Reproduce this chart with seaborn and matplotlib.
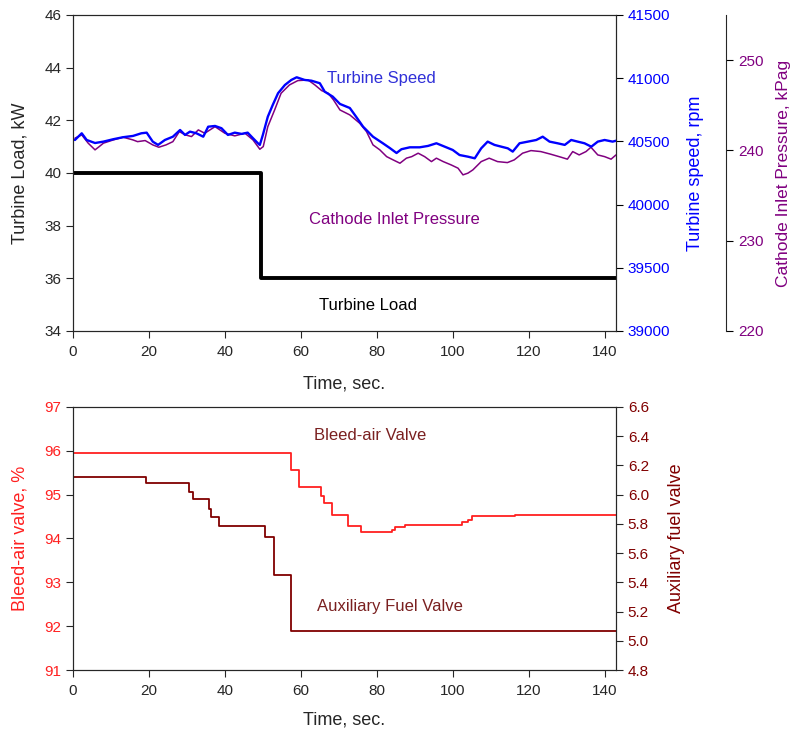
import numpy as np
import pandas as pd
import matplotlib
matplotlib.use("Agg")
import matplotlib.pyplot as plt
import seaborn as sns

# --- top panel data ---
speed_t = [0.5, 2.3, 3.6, 5.8, 8.0, 10.6, 13.2, 15.8, 18.0, 19.4, 21.0, 22.4, 24.2, 26.3,
           28.2, 29.5, 30.8, 32.5, 34.3, 35.6, 37.4, 39.1, 40.8, 42.6, 44.4, 46.0, 47.4,
           48.7, 49.2, 50.0, 51.3, 52.6, 54.0, 55.8, 57.5, 58.9, 61.0, 62.8, 65.0, 66.3,
           68.4, 70.3, 72.9, 74.6, 76.4, 79.0, 81.6, 83.4, 85.2, 86.5, 88.7, 91.3, 93.5,
           95.7, 97.9, 100.0, 101.8, 104.0, 105.8, 107.5, 109.2, 111.0, 112.8, 114.5,
           115.8, 117.6, 119.8, 122.0, 123.7, 125.5, 127.6, 129.5, 131.2, 132.9, 134.7,
           136.5, 138.2, 140.0, 142.1, 143.0]
speed_rpm = [40511, 40564, 40511, 40487, 40498, 40517, 40533, 40543, 40564, 40569, 40498,
             40472, 40511, 40537, 40590, 40551, 40577, 40564, 40537, 40616, 40622, 40604,
             40551, 40569, 40559, 40569, 40525, 40485, 40472, 40551, 40695, 40788, 40881,
             40946, 40986, 41007, 40986, 40980, 40960, 40893, 40854, 40796, 40764, 40693,
             40616, 40537, 40485, 40448, 40408, 40438, 40453, 40453, 40464, 40485, 40458,
             40432, 40392, 40379, 40366, 40445, 40498, 40472, 40458, 40445, 40419, 40485,
             40498, 40511, 40537, 40498, 40485, 40472, 40511, 40498, 40485, 40458, 40498,
             40511, 40498, 40505]

press_t = [0.5, 2.3, 4.0, 5.8, 6.9, 8.0, 10.6, 13.2, 15.8, 17.0, 19.0, 21.0, 22.6, 24.5,
           26.3, 28.0, 29.6, 31.2, 33.0, 34.7, 37.4, 40.0, 42.6, 45.3, 47.4, 49.2, 50.1,
           51.3, 53.1, 54.8, 57.0, 59.2, 61.9, 63.7, 65.5, 67.2, 68.6, 70.3, 72.9, 75.5,
           77.3, 79.0, 80.8, 82.6, 84.3, 86.1, 87.8, 89.2, 90.9, 92.6, 94.4, 95.7, 97.5,
           99.6, 101.4, 102.7, 104.0, 105.3, 107.5, 109.6, 111.8, 114.4, 116.2, 118.4,
           120.6, 123.2, 125.8, 128.5, 130.2, 131.6, 133.3, 135.1, 136.4, 138.2, 140.0,
           141.7, 143.0]
press_kpa = [241.35, 241.72, 240.80, 240.06, 240.42, 240.80, 241.16, 241.46, 241.16, 240.97,
             241.09, 240.61, 240.35, 240.61, 240.97, 242.08, 241.72, 241.53, 242.27, 241.90,
             242.63, 241.90, 241.61, 241.90, 241.16, 240.13, 240.42, 242.63, 244.48, 246.33,
             247.25, 247.73, 247.80, 247.25, 246.62, 246.33, 245.59, 244.48, 243.93, 243.01,
             242.08, 240.61, 240.06, 239.31, 238.95, 238.58, 239.14, 239.31, 239.69, 239.31,
             238.76, 239.14, 238.76, 238.39, 238.03, 237.29, 237.48, 237.84, 238.76, 239.14,
             238.76, 238.65, 238.95, 239.69, 239.98, 239.87, 239.58, 239.25, 239.03, 239.87,
             239.50, 239.87, 240.35, 239.50, 239.31, 239.03, 239.50]

load_t = [0, 49.5, 143]
load_kw = [40, 36, 36]

# --- bottom panel data ---
bleed_t = [0, 57.4, 59.5, 65.3, 66.0, 68.2, 72.4, 75.8, 84.0, 84.8, 87.4, 102.4, 104.0,
           105.0, 116.3, 143]
bleed_pct = [95.95, 95.56, 95.17, 94.97, 94.80, 94.53, 94.28, 94.15, 94.20, 94.26, 94.30,
             94.37, 94.42, 94.51, 94.54, 94.54]

fuel_t = [0, 19.2, 30.5, 31.6, 35.8, 36.4, 38.4, 50.5, 52.9, 57.4, 143]
fuel_val = [6.12, 6.08, 6.02, 5.97, 5.90, 5.85, 5.785, 5.71, 5.45, 5.07, 5.07]

sns.set_style("ticks")
plt.rcParams['font.family'] = ['Liberation Sans', 'DejaVu Sans']
plt.rcParams['font.size'] = 11
plt.rcParams['xtick.major.size'] = 5
plt.rcParams['ytick.major.size'] = 5
plt.rcParams['xtick.major.pad'] = 5

BLUE = '#0000ff'
PURPLE = '#800080'
RED = '#ff2020'
DARKRED = '#800000'
LBL = 13

fig = plt.figure(figsize=(7.97, 7.37), dpi=100)
ax1 = fig.add_axes([0.0916, 0.5509, 0.6813, 0.4288])
ax2 = ax1.twinx()
ax3 = ax1.twinx()
ax3.spines['right'].set_position(('axes', 1.2026))
for s in ['top', 'left', 'bottom']:
    ax3.spines[s].set_visible(False)

sns.lineplot(x=load_t, y=load_kw, ax=ax1, color='black', lw=2.8, drawstyle='steps-post')
sns.lineplot(x=press_t, y=press_kpa, ax=ax3, color=PURPLE, lw=1.1)
sns.lineplot(x=speed_t, y=speed_rpm, ax=ax2, color=BLUE, lw=1.7)
ax2.set_zorder(ax3.get_zorder() + 1)
ax2.patch.set_visible(False)

ax1.set_xlim(0, 143)
ax1.set_ylim(34, 46)
ax1.set_yticks([34, 36, 38, 40, 42, 44, 46])
ax1.set_xticks(range(0, 141, 20))
ax1.set_xlabel('Time, sec.', fontsize=LBL, labelpad=12)
ax1.set_ylabel('Turbine Load, kW', fontsize=LBL, labelpad=11)
ax2.set_ylim(39000, 41500)
ax2.set_yticks([39000, 39500, 40000, 40500, 41000, 41500])
ax2.set_ylabel('Turbine speed, rpm', color=BLUE, fontsize=LBL, labelpad=12)
ax2.tick_params(axis='y', colors='black', labelcolor=BLUE)
ax3.set_ylim(220, 255)
ax3.set_yticks([220, 230, 240, 250])
ax3.set_ylabel('Cathode Inlet Pressure, kPag', color=PURPLE, fontsize=12.5, labelpad=9)
ax3.tick_params(axis='y', colors='black', labelcolor=PURPLE)

ax1.text(66.8, 43.57, 'Turbine Speed', color='#3030d8', fontsize=12, ha='left', va='center')
ax1.text(84.7, 38.25, 'Cathode Inlet Pressure', color=PURPLE, fontsize=12, ha='center', va='center')
ax1.text(77.6, 34.95, 'Turbine Load', color='black', fontsize=12, ha='center', va='center')

# --- bottom panel ---
bx1 = fig.add_axes([0.0916, 0.0909, 0.6813, 0.3569])
bx2 = bx1.twinx()
sns.lineplot(x=bleed_t, y=bleed_pct, ax=bx1, color=RED, lw=1.3, drawstyle='steps-post')
sns.lineplot(x=fuel_t, y=fuel_val, ax=bx2, color=DARKRED, lw=1.3, drawstyle='steps-post')

bx1.set_xlim(0, 143)
bx1.set_ylim(91, 97)
bx1.set_xticks(range(0, 141, 20))
bx1.set_xlabel('Time, sec.', fontsize=LBL, labelpad=10)
bx1.set_ylabel('Bleed-air valve, %', color=RED, fontsize=LBL, labelpad=11)
bx1.tick_params(axis='y', labelcolor=RED)
bx2.set_ylim(4.8, 6.6)
bx2.set_yticks(np.arange(4.8, 6.61, 0.2))
bx2.set_yticklabels([f'{v:.1f}' for v in np.arange(4.8, 6.61, 0.2)])
bx2.set_ylabel('Auxiliary fuel valve', color=DARKRED, fontsize=LBL, labelpad=14)
bx2.tick_params(axis='y', labelcolor=DARKRED)

bx1.text(78.2, 96.36, 'Bleed-air Valve', color='#7a2020', fontsize=12, ha='center', va='center')
bx1.text(83.4, 92.46, 'Auxiliary Fuel Valve', color='#7a2020', fontsize=12, ha='center', va='center')

fig.savefig('out.png', dpi=100)
